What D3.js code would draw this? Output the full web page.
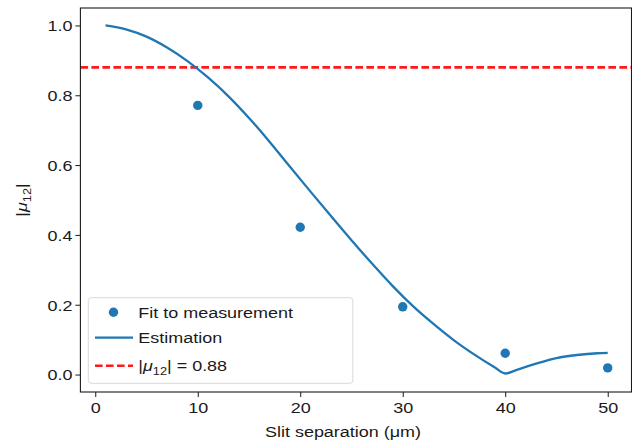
<!DOCTYPE html>
<html><head><meta charset="utf-8">
<script src="https://cdn.jsdelivr.net/npm/d3@7"></script>
<style>
body{margin:0;background:#fff}
text{font-family:"Liberation Sans",Arial,Helvetica,sans-serif;fill:#1a1a1a}
</style>
</head><body>
<svg id="c" width="632" height="443"></svg>
<script>
// ---- data ----
const measX = [10, 20, 30, 40, 50];
const measY = [0.771, 0.422, 0.194, 0.061, 0.019];
const estX = [1, 3, 5, 7, 9, 11, 13, 15, 17, 19, 21, 23, 25, 27, 29, 31, 33, 35, 37, 39, 40, 41, 42, 43, 45, 47, 49, 50];
const estY = [1.000, 0.989, 0.968, 0.937, 0.898, 0.851, 0.797, 0.735, 0.667, 0.595, 0.524, 0.454, 0.385, 0.318, 0.254, 0.196, 0.145, 0.098, 0.057, 0.020, 0.003, 0.012, 0.022, 0.031, 0.047, 0.056, 0.061, 0.062];
const thresholdValue = 0.88;
const xTicks = [0, 10, 20, 30, 40, 50];
const yTicks = [0.0, 0.2, 0.4, 0.6, 0.8, 1.0];
const legendLabels = ["Fit to measurement", "Estimation"];

// ---- layout ----
const SX = 1.16, FS = 15.5;
const L = 80.4, R = 631.5, T = 8, B = 392;
const blue = "#1f77b4";
const svg = d3.select("#c");

const x = d3.scaleLinear().domain([-1.45, 52.32]).range([L, R]);
const y = d3.scaleLinear().domain([-0.05, 1.05]).range([B, T]);

// threshold line
svg.append("line")
  .attr("x1", L).attr("x2", R)
  .attr("y1", y(thresholdValue)).attr("y2", y(thresholdValue))
  .attr("stroke", "#ff1a1a").attr("stroke-width", 2.6)
  .attr("stroke-dasharray", "7.6,3.4");

// estimation curve
const est = estX.map((v, i) => [v, estY[i]]);
svg.append("path").datum(est)
  .attr("fill", "none").attr("stroke", blue).attr("stroke-width", 2.3)
  .attr("stroke-linejoin", "round")
  .attr("d", d3.line().x(d => x(d[0])).y(d => y(d[1])).curve(d3.curveMonotoneX));

// measurement points
svg.selectAll("circle.m").data(measX.map((v, i) => [v, measY[i]])).enter()
  .append("circle").attr("class", "m")
  .attr("cx", d => x(d[0])).attr("cy", d => y(d[1])).attr("r", 4.7)
  .attr("fill", blue);

// axes
const xa = svg.append("g").attr("transform", `translate(0,${B})`)
  .call(d3.axisBottom(x).tickValues(xTicks).tickSize(5).tickPadding(4.5).tickFormat(d3.format("d")));
const ya = svg.append("g").attr("transform", `translate(${L},0)`)
  .call(d3.axisLeft(y).tickValues(yTicks).tickSize(5).tickPadding(3).tickFormat(d3.format(".1f")));
[xa, ya].forEach(a => {
  a.select(".domain").remove();
  a.selectAll(".tick line").attr("stroke", "#1a1a1a").attr("stroke-width", 1);
  a.selectAll(".tick text").attr("font-size", FS).attr("font-family", "Liberation Sans, Arial, sans-serif").attr("fill", "#1a1a1a");
});
xa.selectAll(".tick text").attr("transform", `scale(${SX},1)`);
ya.selectAll(".tick text").attr("x", -8 / SX).attr("dy", "0.34em").attr("transform", `scale(${SX},1)`);

// frame
svg.append("rect").attr("x", L).attr("y", T).attr("width", R - L).attr("height", B - T)
  .attr("fill", "none").attr("stroke", "#1a1a1a").attr("stroke-width", 1.1);

// helper for stretched text
function stext(px, py, anchor, rot) {
  const g = svg.append("g").attr("transform", `translate(${px},${py})` + (rot ? ` rotate(${rot})` : "") + ` scale(${SX},1)`);
  return g.append("text").attr("text-anchor", anchor).attr("font-size", FS);
}
function mu12(t, big, small, drop) {
  t.append("tspan").text("|");
  t.append("tspan").attr("font-style", "italic").text("μ");
  t.append("tspan").attr("font-size", small).attr("dy", drop).text("12");
  t.append("tspan").attr("font-size", big).attr("dy", -drop).text("|");
}

// axis labels
stext(343, 437, "middle").text("Slit separation (μm)");
const yl = stext(27, 200, "middle", -90);
mu12(yl, FS, 11, 4);

// legend
const lg = svg.append("g");
lg.append("rect").attr("x", 88.3).attr("y", 297.7).attr("width", 264.5).attr("height", 85.6)
  .attr("rx", 3).attr("fill", "#fff").attr("fill-opacity", 0.8)
  .attr("stroke", "#d9d9d9").attr("stroke-width", 1);
lg.append("circle").attr("cx", 113.5).attr("cy", 312.3).attr("r", 4.7).attr("fill", blue);
lg.append("line").attr("x1", 95).attr("x2", 133).attr("y1", 337.7).attr("y2", 337.7)
  .attr("stroke", blue).attr("stroke-width", 2.3);
lg.append("line").attr("x1", 95).attr("x2", 133).attr("y1", 365.7).attr("y2", 365.7)
  .attr("stroke", "#ff1a1a").attr("stroke-width", 2.6).attr("stroke-dasharray", "7.6,3.4");
stext(138.3, 317.8, "start").text(legendLabels[0]);
stext(138.3, 343.2, "start").text(legendLabels[1]);
const l3 = stext(138.3, 371.2, "start");
mu12(l3, FS, 11, 4);
l3.append("tspan").text(" = " + thresholdValue.toFixed(2));
</script>
</body></html>
